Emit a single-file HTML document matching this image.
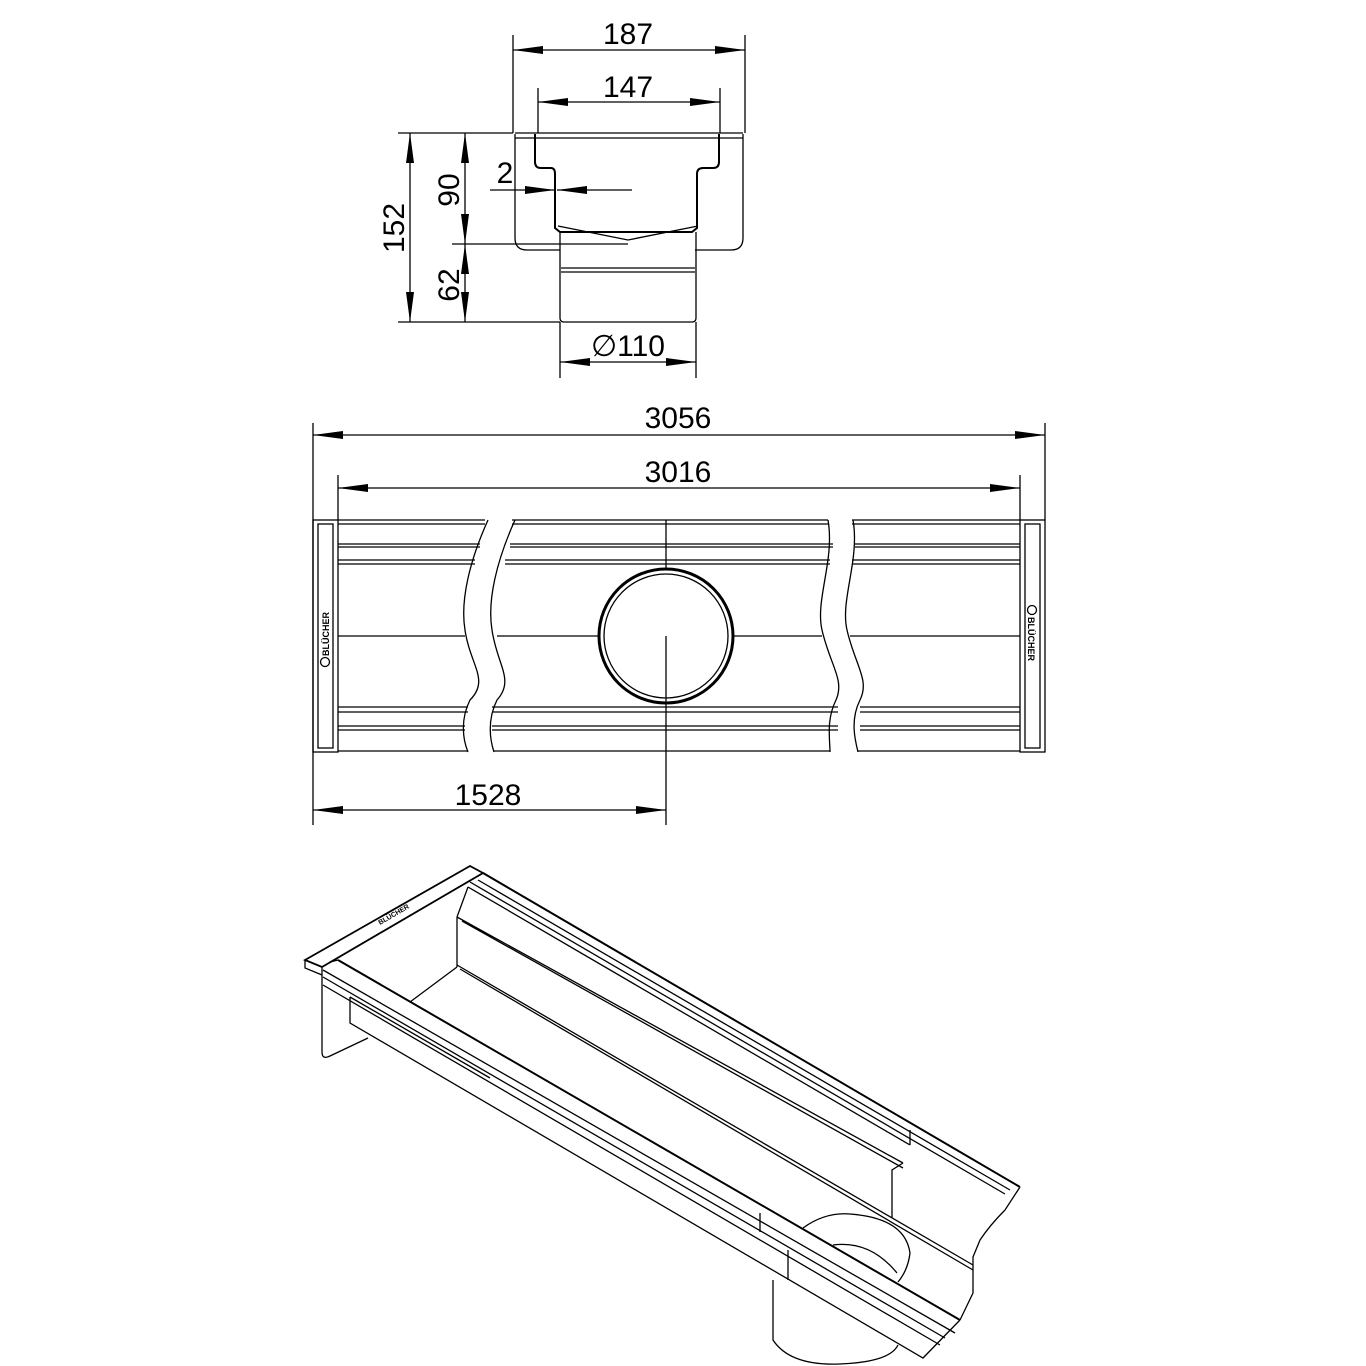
<!DOCTYPE html>
<html><head><style>html,body{margin:0;padding:0;background:#fff}svg{display:block}</style></head><body>
<svg width="1366" height="1366" viewBox="0 0 1366 1366" xmlns="http://www.w3.org/2000/svg" font-family="Liberation Sans, sans-serif">
<defs>
<marker id="a" viewBox="0 0 30 10" refX="30" refY="5" markerWidth="30" markerHeight="10" markerUnits="userSpaceOnUse" orient="auto-start-reverse"><path d="M0,1 L30,5 L0,9 Z" fill="#000"/></marker>
</defs>
<g stroke="#000" stroke-width="1.3" fill="none">
<!-- top section view -->
<line x1="513" y1="35" x2="513" y2="133"/><line x1="745" y1="35" x2="745" y2="133"/>
<line x1="513" y1="50" x2="745" y2="50" marker-start="url(#a)" marker-end="url(#a)"/>
<line x1="538" y1="88" x2="538" y2="133"/><line x1="720" y1="88" x2="720" y2="133"/>
<line x1="538" y1="102" x2="720" y2="102" marker-start="url(#a)" marker-end="url(#a)"/>
<path d="M515,133 H743 M515,138 H743"/>
<path d="M515,134 V238 Q515,250 527,250 H560 M743,134 V238 Q743,250 731,250 H695"/>
<path d="M535,134 V162 Q535,168 541,168 H551 Q555,168 555,174 V228 L560,232 H692 L697,228 V174 Q697,168 703,168 H713 Q719,168 719,162 V134" stroke-width="2"/>
<path d="M558,226 L628,240 L698,226"/>
<path d="M560,232 V318 Q560,322 564,322 H692 Q696,322 696,318 V232"/>
<path d="M561,268 H695 M561,272 H695"/>
<line x1="398" y1="133" x2="513" y2="133"/><line x1="398" y1="322" x2="560" y2="322"/>
<line x1="452" y1="244" x2="628" y2="244"/>
<line x1="410" y1="133" x2="410" y2="322" marker-start="url(#a)" marker-end="url(#a)"/>
<line x1="465" y1="133" x2="465" y2="244" marker-start="url(#a)" marker-end="url(#a)"/>
<line x1="465" y1="244" x2="465" y2="322" marker-start="url(#a)" marker-end="url(#a)"/>
<line x1="490" y1="190" x2="555" y2="190" marker-end="url(#a)"/>
<line x1="632" y1="190" x2="557" y2="190" marker-end="url(#a)"/>
<line x1="560" y1="322" x2="560" y2="378"/><line x1="696" y1="322" x2="696" y2="378"/>
<line x1="560" y1="362" x2="696" y2="362" marker-start="url(#a)" marker-end="url(#a)"/>
<!-- plan view -->
<line x1="313" y1="423" x2="313" y2="825"/><line x1="1045" y1="423" x2="1045" y2="520"/>
<line x1="313" y1="435" x2="1045" y2="435" marker-start="url(#a)" marker-end="url(#a)"/>
<line x1="338" y1="475" x2="338" y2="520"/><line x1="1020" y1="475" x2="1020" y2="520"/>
<line x1="338" y1="488" x2="1020" y2="488" marker-start="url(#a)" marker-end="url(#a)"/>
<rect x="313" y="520" width="25" height="232"/><rect x="318" y="524" width="15" height="224"/>
<rect x="1020" y="520" width="25" height="232"/><rect x="1025" y="524" width="15" height="224"/>
<path d="M338,520 H485 M338,524 H485 M338,544 H480 M338,547 H480 M338,560 H475 M338,564 H475 M338,636 H465 M338,707 H468 M338,712 H468 M338,726 H465 M338,730 H465 M338,751 H468"/>
<path d="M512,520 H828 M512,524 H828 M510,544 H833 M510,547 H833 M505,560 H830 M505,564 H830 M497,636 H600 M732,636 H822 M492,707 H838 M492,712 H838 M492,726 H838 M492,730 H838 M494,751 H830"/>
<path d="M852,520 H1020 M852,524 H1020 M855,544 H1020 M855,547 H1020 M852,560 H1020 M852,564 H1020 M850,636 H1020 M860,707 H1020 M860,712 H1020 M860,726 H1020 M860,730 H1020 M858,751 H1020"/>
<path d="M488,520 C470,560 460,600 465,630 C470,665 490,680 470,700 C460,720 463,740 468,752"/>
<path d="M515,520 C497,560 487,600 492,630 C497,665 515,680 497,700 C487,720 490,740 494,752"/>
<path d="M828,520 C835,560 815,600 822,630 C830,665 845,680 836,700 C826,720 830,740 830,752"/>
<path d="M853,520 C860,560 840,600 847,630 C855,665 870,680 860,700 C850,720 855,740 858,752"/>
<circle cx="666" cy="636" r="67" stroke-width="3"/><circle cx="666" cy="636" r="62"/>
<line x1="666" y1="520" x2="666" y2="569"/><line x1="666" y1="636" x2="666" y2="825"/>
<line x1="313" y1="810" x2="666" y2="810" marker-start="url(#a)" marker-end="url(#a)"/>
<circle cx="325" cy="662" r="4.5"/><circle cx="1032" cy="610" r="4.5"/>
<!-- 3D view -->
<!-- end plate -->
<path d="M305,960 L470,866 L483,873 L322,967 Z" stroke-width="1.8"/>
<path d="M305,960 V968 L322,975 M322,967 V1052 Q322,1060 330,1056 L368,1038"/>
<!-- back rim -->
<path d="M483,873 L1020,1187" stroke-width="2"/>
<path d="M478,880 L1010,1190 M470,882 L1005,1194 M468,887 L910,1145"/>
<path d="M468,887 L457,917 M457,917 L903,1163 M462,921 L903,1168 M457,917 V967"/>
<path d="M457,967 L410,1002 M457,965 L973,1265 M460,969 L973,1270"/>
<path d="M910,1130 V1145 M903,1163 L892,1170 V1218"/>
<!-- right end profile -->
<path d="M1020,1187 L1005,1210 Q990,1225 980,1240 L973,1257 V1293 L960,1320"/>
<!-- front rim -->
<path d="M338,960 L960,1320" stroke-width="2"/>
<path d="M330,962 L338,960 M323,970 L955,1333 M323,977 L945,1338 M323,985 L940,1345 M350,997 L490,1078"/>
<path d="M350,997 V1023 L923,1358 L960,1320"/>
<path d="M760,1213 V1232 M788,1250 V1280"/>
<!-- pipe -->
<path d="M803,1228 Q825,1212 850,1214 Q905,1218 910,1253 Q908,1270 898,1282"/>
<path d="M833,1245 Q870,1240 897,1273"/>
<path d="M773,1280 V1340 Q790,1366 840,1364 Q890,1362 898,1345"/>
</g>
<g font-size="30" text-anchor="middle" fill="#000">
<text x="628" y="44">187</text>
<text x="628" y="97">147</text>
<text x="505" y="183">2</text>
<text x="628" y="356">∅110</text>
<text x="678" y="428">3056</text>
<text x="678" y="482">3016</text>
<text x="488" y="805">1528</text>
<text transform="translate(404,228) rotate(-90)">152</text>
<text transform="translate(459,190) rotate(-90)">90</text>
<text transform="translate(459,285) rotate(-90)">62</text>
</g>
<g font-size="9" font-weight="bold" fill="#000">
<text transform="translate(329,656) rotate(-90)">BLÜCHER</text>
<text transform="translate(1028,617) rotate(90)">BLÜCHER</text>
<text transform="translate(380,925) rotate(-30)" font-size="7">BLÜCHER</text>
</g>
</svg>
</body></html>
